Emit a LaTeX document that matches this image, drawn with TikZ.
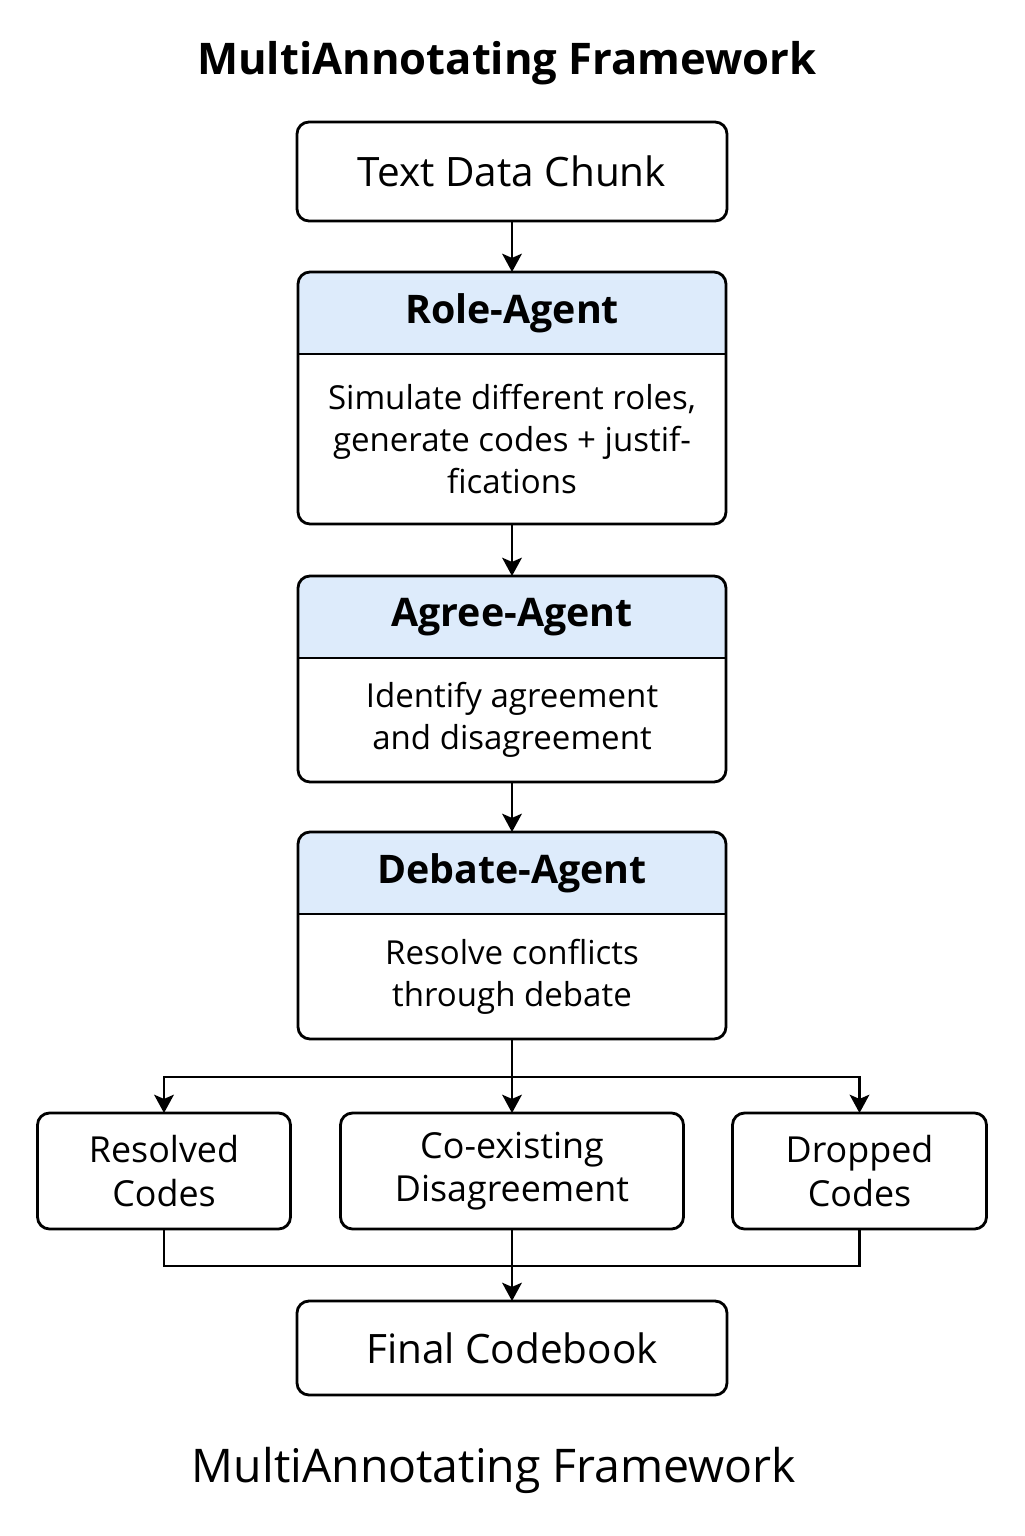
\documentclass[tikz,border=0pt]{standalone}
\usepackage{fontspec}
\setmainfont{Open Sans}
\usepackage{tikz}
\usetikzlibrary{calc,positioning,fit,arrows.meta,backgrounds}
\definecolor{headblue}{RGB}{221,235,251}
\newcommand{\fsz}[2]{\fontsize{#1}{#2}\selectfont}
\tikzset{
  line/.style = {-{Stealth[length=13pt, width=14pt, inset=3pt]}, line width=1.8pt},
  wire/.style = {line width=1.8pt},
  box/.style  = {draw, line width=2pt, rounded corners=0.3cm, align=center, inner sep=0pt, outer sep=0pt},
  plainbox/.style = {box, minimum width=10.75cm, font=\fsz{28.8}{34}},
  headbox/.style  = {minimum width=10.7cm, minimum height=2.05cm, inner sep=0pt, outer sep=0pt, font=\bfseries\fsz{28}{34}},
  bodybox/.style  = {minimum width=10.7cm, inner sep=0pt, outer sep=0pt, align=center, font=\fsz{23.5}{30}},
  outbox/.style   = {box, minimum height=2.9cm, font=\fsz{25.5}{31}},
}

\begin{document}
\begin{tikzpicture}
  \useasboundingbox (0,0) rectangle (25.6,-38.4);
  \node[font=\bfseries\fsz{31}{36}] (title) at (12.675,-1.575) {MultiAnnotating Framework};
  \node[plainbox, minimum height=2.475cm] (chunk) at (12.8,-4.2875) {Text Data Chunk};
  \node[headbox, below=1.275cm of chunk] (roleH) {Role-Agent};
  \node[bodybox, below=0pt of roleH, minimum height=4.25cm] (roleB) {Simulate different roles,\\ generate codes + justif-\\ fications};
  \node[box, fit=(roleH)(roleB)] (role) {};
  \node[headbox, below=1.3cm of role] (agreeH) {Agree-Agent};
  \node[bodybox, below=0pt of agreeH, minimum height=3.1cm] (agreeB) {Identify agreement\\ and disagreement};
  \node[box, fit=(agreeH)(agreeB)] (agree) {};
  \node[headbox, below=1.25cm of agree] (debateH) {Debate-Agent};
  \node[bodybox, below=0pt of debateH, minimum height=3.125cm] (debateB) {Resolve conflicts\\ through debate};
  \node[box, fit=(debateH)(debateB)] (debate) {};
  \node[outbox, minimum width=8.575cm, below=1.85cm of debate] (coexist) {Co-existing\\ Disagreement};
  \node[outbox, minimum width=6.325cm, left=1.25cm of coexist] (resolved) {Resolved\\ Codes};
  \node[outbox, minimum width=6.35cm, right=1.225cm of coexist] (dropped) {Dropped\\ Codes};
  \node[plainbox, minimum height=2.35cm, below=1.8cm of coexist] (final) {Final Codebook};
  \node[font=\fsz{33}{38}] (caption) at (12.35,-36.75) {MultiAnnotating Framework};
  \begin{scope}[on background layer]
    \foreach \a in {roleH, agreeH, debateH} {
      \fill[headblue, rounded corners=0.3cm] (\a.south west) rectangle (\a.north east);
      \fill[headblue] (\a.south west) rectangle (\a.east);
    }
  \end{scope}
  \foreach \a in {roleH, agreeH, debateH}
    \draw[line width=2pt] (\a.south west) -- (\a.south east);
  \coordinate[below=0.95cm of debate.south] (split);
  \coordinate[below=0.925cm of coexist.south] (merge);
  \draw[line] (chunk) -- (roleH);
  \draw[line] (role) -- (agreeH);
  \draw[line] (agree) -- (debateH);
  \draw[line] (debate) -- (coexist);
  \draw[line] (split) -| (resolved);
  \draw[line] (split) -| (dropped);
  \draw[wire] (resolved) |- (merge) -| (dropped);
  \draw[line] (coexist) -- (final);
\end{tikzpicture}
\end{document}
